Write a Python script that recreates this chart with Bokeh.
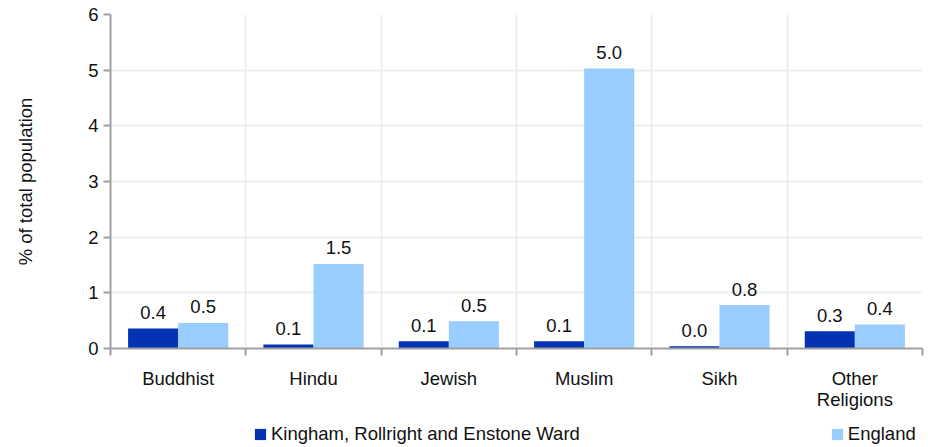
from bokeh.plotting import figure
from bokeh.layouts import column
from bokeh.models import (ColumnDataSource, Range1d, FixedTicker, Legend, LegendItem)
from bokeh.core.properties import value
from bokeh.embed import file_html
from bokeh.resources import INLINE

categories = ["Buddhist", "Hindu", "Jewish", "Muslim", "Sikh", "Other\nReligions"]
series_names = ["Kingham, Rollright and Enstone Ward", "England"]
kingham = [0.36, 0.07, 0.13, 0.13, 0.04, 0.31]
england = [0.46, 1.52, 0.49, 5.03, 0.78, 0.43]
y_ticks = [0, 1, 2, 3, 4, 5, 6]

FONT = "Liberation Sans"
FS = "18.5px"
DARK = "#0333B3"
LIGHT = "#99CCFF"
BAR_W = 0.37

n = len(categories)
centers = [i + 0.5 for i in range(n)]

src_k = ColumnDataSource(dict(x=[c - BAR_W / 2 for c in centers], top=kingham,
                              lab=[f"{v:.1f}" for v in kingham]))
src_e = ColumnDataSource(dict(x=[c + BAR_W / 2 for c in centers], top=england,
                              lab=[f"{v:.1f}" for v in england]))

p = figure(width=928, height=420, output_backend="svg", toolbar_location=None,
           x_range=Range1d(0, n), y_range=Range1d(0, 6))
p.min_border_left = 110
p.min_border_right = 6
p.min_border_top = 14
p.min_border_bottom = 72
p.outline_line_color = None
p.background_fill_color = "white"
p.border_fill_color = "white"

p.vbar(x="x", top="top", width=BAR_W, source=src_k, fill_color=DARK, line_color=None)
p.vbar(x="x", top="top", width=BAR_W, source=src_e, fill_color=LIGHT, line_color=None)

for src in (src_k, src_e):
    p.text(x="x", y="top", text="lab", source=src, text_align="center",
           text_baseline="alphabetic", y_offset=-16, text_font=value(FONT),
           text_font_size=FS, text_color="#111111")

# axes
xa = p.xaxis[0]
xa.ticker = FixedTicker(ticks=centers, minor_ticks=list(range(n + 1)))
xa.major_label_overrides = {c: name for c, name in zip(centers, categories)}
xa.major_tick_out = 0
xa.major_tick_in = 0
xa.minor_tick_out = 7
xa.minor_tick_in = 0
xa.minor_tick_line_color = "#a0a0a0"
xa.minor_tick_line_width = 2
xa.axis_line_color = "#a0a0a0"
xa.axis_line_width = 2
xa.major_label_text_font = FONT
xa.major_label_text_font_size = FS
xa.major_label_text_color = "#111111"
xa.major_label_text_line_height = 1.0
xa.major_label_standoff = 12

ya = p.yaxis[0]
ya.ticker = FixedTicker(ticks=y_ticks, minor_ticks=[])
ya.major_tick_out = 7
ya.major_tick_in = 0
ya.major_tick_line_color = "#a0a0a0"
ya.major_tick_line_width = 2
ya.axis_line_color = "#a0a0a0"
ya.axis_line_width = 2
ya.major_label_text_font = FONT
ya.major_label_text_font_size = FS
ya.major_label_text_color = "#111111"
ya.major_label_standoff = 5
ya.axis_label = "% of total population"
ya.axis_label_text_font = FONT
ya.axis_label_text_font_size = FS
ya.axis_label_text_font_style = "normal"
ya.axis_label_text_color = "#111111"
ya.axis_label_standoff = 49

p.xgrid.ticker = FixedTicker(ticks=list(range(n + 1)))
p.xgrid.grid_line_color = "#eeeeee"
p.xgrid.grid_line_width = 2
p.ygrid.grid_line_color = "#eeeeee"
p.ygrid.grid_line_width = 2

# legend strip below the chart (its bars lie outside its y range, so only the legend shows)
lg = figure(width=928, height=27, output_backend="svg", toolbar_location=None,
            x_range=Range1d(0, n), y_range=Range1d(100, 101),
            x_axis_location=None, y_axis_location=None)
lg.min_border_left = 0
lg.min_border_right = 0
lg.min_border_top = 0
lg.min_border_bottom = 0
lg.outline_line_color = None
lg.xgrid.visible = False
lg.ygrid.visible = False
lr_k = lg.vbar(x="x", top="top", width=BAR_W, source=src_k, fill_color=DARK, line_color=None)
lr_e = lg.vbar(x="x", top="top", width=BAR_W, source=src_e, fill_color=LIGHT, line_color=None)

legend = Legend(items=[LegendItem(label=series_names[0], renderers=[lr_k]),
                       LegendItem(label=series_names[1], renderers=[lr_e])],
                orientation="horizontal", location=(143, 2),
                padding=0, margin=0, spacing=250,
                glyph_width=14, glyph_height=14, label_standoff=4,
                label_height=20,
                label_text_font=FONT, label_text_font_size=FS,
                label_text_color="#111111",
                border_line_color=None, background_fill_alpha=0)
lg.add_layout(legend, "center")

layout = column(p, lg, spacing=0)
open("out.html", "w").write(file_html(layout, INLINE))
